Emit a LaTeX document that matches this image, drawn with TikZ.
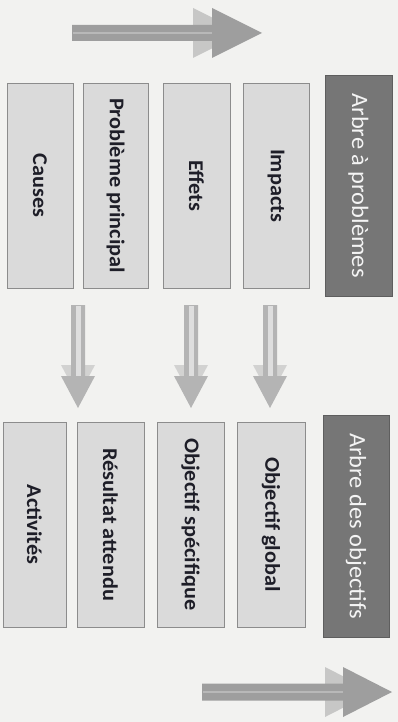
\documentclass[tikz,border=0pt]{standalone}
\usepackage{fontspec}
\usepackage{graphicx}
\setmainfont{Carlito}
\newfontfamily\cellfont[FakeStretch=1.06]{Carlito}
\newfontfamily\headfont[FakeStretch=1.04]{Carlito}
\usetikzlibrary{calc}

\definecolor{paper}{HTML}{F2F2F0}
\definecolor{boxfill}{HTML}{DADADA}
\definecolor{boxline}{HTML}{8C8C8C}
\definecolor{darkfill}{HTML}{767676}
\definecolor{darkline}{HTML}{5E5E5E}
\definecolor{ink}{HTML}{1E1E28}
\definecolor{titleink}{HTML}{F4F4F4}
\definecolor{bigarrow}{HTML}{9E9E9E}
\definecolor{bigstripe}{HTML}{B8B8B8}
\definecolor{smallarrow}{HTML}{B4B4B4}
\definecolor{smallstripe}{HTML}{DEDEDE}

% text running from top to bottom
\newcommand{\vtext}[1]{\rotatebox{-90}{#1}}

% block arrow pointing right: start, tip, half shaft, half head, head length, ghost shift, colour, stripe colour, stripe width
\newcommand{\blockright}[9]{%
  \fill[#7, opacity=0.5] ($(#2)+(-#5-#6,-#4)$) -- ($(#2)+(-#6,0)$) -- ($(#2)+(-#5-#6,#4)$) -- cycle;
  \fill[#7] ($(#1)+(0,-#3)$) -- ($(#2)+(-#5,-#3)$) -- ($(#2)+(-#5,-#4)$) -- (#2)
    -- ($(#2)+(-#5,#4)$) -- ($(#2)+(-#5,#3)$) -- ($(#1)+(0,#3)$) -- cycle;
  \draw[#8, line width=#9] ($(#1)+(1,0)$) -- ($(#2)+(-#5,0)$);
}
% block arrow pointing down, same arguments
\newcommand{\blockdown}[9]{%
  \fill[#7, opacity=0.5] ($(#2)+(-#4,-#5-#6)$) -- ($(#2)+(0,-#6)$) -- ($(#2)+(#4,-#5-#6)$) -- cycle;
  \fill[#7] ($(#1)+(-#3,0)$) -- ($(#2)+(-#3,-#5)$) -- ($(#2)+(-#4,-#5)$) -- (#2)
    -- ($(#2)+(#4,-#5)$) -- ($(#2)+(#3,-#5)$) -- ($(#1)+(#3,0)$) -- cycle;
  \draw[#8, line width=#9] ($(#1)+(0,1)$) -- ($(#2)+(0,-#5)$);
}

\begin{document}
\begin{tikzpicture}[x=1pt, y=-1pt,
  cell/.style={draw=boxline, fill=boxfill, line width=0.8pt, inner sep=0pt,
    minimum height=205pt, text=ink, font=\cellfont\bfseries\fontsize{21}{25}\selectfont},
  heading/.style={draw=darkline, fill=darkfill, line width=0.8pt, inner sep=0pt,
    minimum width=67pt, minimum height=221pt, text=titleink, font=\headfont\fontsize{23.5}{28}\selectfont}]

  % page
  \fill[paper] (0,0) rectangle (398,722);
  \useasboundingbox (0,0) rectangle (398,722);

  % problem tree
  \node[cell, minimum width=66pt] (causes)   at (40,185.5)  {\vtext{Causes}};
  \node[cell, minimum width=65pt] (probleme) at (115.5,185.5) {\vtext{Problème principal}};
  \node[cell, minimum width=67pt] (effets)   at (196.5,185.5) {\vtext{Effets}};
  \node[cell, minimum width=66pt] (impacts)  at (276,185.5)  {\vtext{Impacts}};
  \node[heading] (arbreP) at (358.5,185.5) {\vtext{Arbre à problèmes}};

  % objective tree
  \node[cell, minimum width=63pt] (activites) at (34.5,524.5)  {\vtext{Activités}};
  \node[cell, minimum width=67pt] (resultat)  at (110.5,524.5) {\vtext{Résultat attendu}};
  \node[cell, minimum width=67pt] (objspec)   at (190.5,524.5) {\vtext{Objectif spécifique}};
  \node[cell, minimum width=68pt] (objglob)   at (271,524.5)   {\vtext{Objectif global}};
  \node[heading, minimum width=66pt, minimum height=222pt] (arbreO) at (356,526) {\vtext{Arbre des objectifs}};

  % arrow end points
  \coordinate (topS) at (72,33);
  \coordinate (topE) at (262,33);
  \coordinate (botS) at (202,692);
  \coordinate (botE) at (392,692);
  \coordinate (d1S) at (78,305);
  \coordinate (d1E) at (78,408);
  \coordinate (d2S) at (191,305);
  \coordinate (d2E) at (191,408);
  \coordinate (d3S) at (270,305);
  \coordinate (d3E) at (270,408);

  % reading direction
  \blockright{topS}{topE}{8}{25}{50}{19}{bigarrow}{bigstripe}{2pt}
  \blockright{botS}{botE}{8.5}{25}{49}{18}{bigarrow}{bigstripe}{2pt}

  % from problems to objectives
  \blockdown{d1S}{d1E}{7}{17}{32}{11}{smallarrow}{smallstripe}{5pt}
  \blockdown{d2S}{d2E}{7}{17}{32}{11}{smallarrow}{smallstripe}{5pt}
  \blockdown{d3S}{d3E}{7}{17}{32}{11}{smallarrow}{smallstripe}{5pt}
\end{tikzpicture}
\end{document}
